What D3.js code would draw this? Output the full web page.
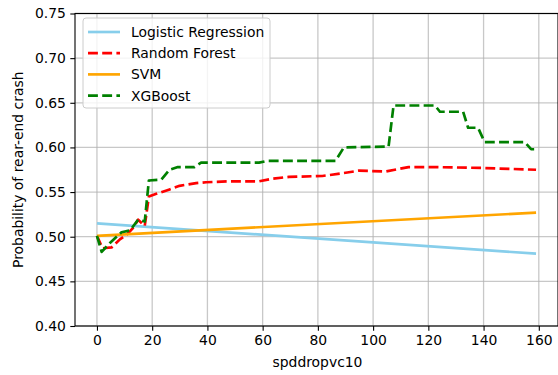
<!DOCTYPE html>
<html>
<head>
<meta charset="utf-8">
<script src="https://cdn.jsdelivr.net/npm/d3@7"></script>
<style>
  html, body { margin: 0; padding: 0; background: #fff; }
  svg { display: block; font-family: "DejaVu Sans", sans-serif; }
</style>
</head>
<body>
<svg id="chart" width="558" height="375"></svg>
<script>
// Predicted probability of a rear-end crash versus spddropvc10, per model
const lrX = [0, 159];
const lrY = [0.515, 0.481];

const svmX = [0, 159];
const svmY = [0.501, 0.527];

const rfX = [0, 2, 5.3, 8.3, 10.7, 13.1, 14.9, 17.3, 18.8, 21.5, 26.3, 29.9, 35.9, 39.5, 47.9, 58.7, 63.5, 69.5, 81.6, 88.8, 94.8, 104.4, 112.8, 122.4, 139.2, 159];
const rfY = [0.501, 0.487, 0.488, 0.497, 0.502, 0.510, 0.519, 0.512, 0.545, 0.548, 0.553, 0.557, 0.560, 0.561, 0.562, 0.562, 0.565, 0.567, 0.568, 0.571, 0.574, 0.573, 0.578, 0.578, 0.577, 0.575];

const xgbX = [0, 1.7, 4.7, 8.9, 12, 14.9, 17.3, 18.8, 23.3, 26.3, 29.3, 35.3, 37.7, 58.7, 61.7, 86.4, 89.4, 105.6, 107.4, 122.4, 124.2, 132.6, 134.4, 138, 140.4, 154.9, 157.2, 159];
const xgbY = [0.501, 0.483, 0.493, 0.505, 0.507, 0.519, 0.517, 0.563, 0.564, 0.575, 0.578, 0.578, 0.583, 0.583, 0.585, 0.585, 0.600, 0.601, 0.647, 0.647, 0.640, 0.640, 0.622, 0.622, 0.606, 0.606, 0.598, 0.598];

const xTicks = [0, 20, 40, 60, 80, 100, 120, 140, 160];
const yTicks = [0.40, 0.45, 0.50, 0.55, 0.60, 0.65, 0.70, 0.75];

const series = [
  { name: "Logistic Regression", xs: lrX, ys: lrY, color: "#87CEEB", dash: null },
  { name: "Random Forest", xs: rfX, ys: rfY, color: "#FF0000", dash: "9.9,4.3" },
  { name: "SVM", xs: svmX, ys: svmY, color: "#FFA500", dash: null },
  { name: "XGBoost", xs: xgbX, ys: xgbY, color: "#008000", dash: "9.9,4.3" }
];

const FONT = "13.9px";
const plotLeft = 75, plotRight = 558, plotTop = 13.5, plotBottom = 326;
const svg = d3.select("#chart");

const x = d3.scaleLinear().domain([-7.95, 166.95]).range([plotLeft, plotRight]);
const y = d3.scaleLinear().domain([0.40, 0.75]).range([plotBottom, plotTop]);

// grid
const grid = svg.append("g");
grid.selectAll("line.gx").data(xTicks).join("line")
  .attr("x1", d => x(d)).attr("x2", d => x(d))
  .attr("y1", plotTop).attr("y2", plotBottom)
  .attr("stroke", "#b0b0b0").attr("stroke-opacity", 0.7).attr("stroke-width", 1.3);
grid.selectAll("line.gy").data(yTicks).join("line")
  .attr("y1", d => y(d)).attr("y2", d => y(d))
  .attr("x1", plotLeft).attr("x2", plotRight)
  .attr("stroke", "#b0b0b0").attr("stroke-opacity", 0.7).attr("stroke-width", 1.3);

// lines
const line = d3.line().x(d => x(d[0])).y(d => y(d[1]));
const plot = svg.append("g");
series.forEach(s => {
  plot.append("path")
    .datum(s.xs.map((v, i) => [v, s.ys[i]]))
    .attr("d", line)
    .attr("fill", "none")
    .attr("stroke", s.color)
    .attr("stroke-width", 2.67)
    .attr("stroke-dasharray", s.dash)
    .attr("stroke-linejoin", "round");
});

// axes
const xAxis = d3.axisBottom(x).tickValues(xTicks).tickSize(4.7).tickPadding(4.5).tickFormat(d3.format("d"));
const yAxis = d3.axisLeft(y).tickValues(yTicks).tickSize(4.7).tickPadding(4.5).tickFormat(d3.format(".2f"));

const gx = svg.append("g").attr("transform", `translate(0,${plotBottom})`).call(xAxis);
const gy = svg.append("g").attr("transform", `translate(${plotLeft},0)`).call(yAxis);
[gx, gy].forEach(g => {
  g.select(".domain").remove();
  g.selectAll("text").attr("font-size", FONT).attr("fill", "#000").attr("font-family", "DejaVu Sans, sans-serif");
  g.selectAll("line").attr("stroke", "#000").attr("stroke-width", 1.1);
});

// frame
svg.append("rect")
  .attr("x", plotLeft).attr("y", plotTop)
  .attr("width", plotRight - plotLeft).attr("height", plotBottom - plotTop)
  .attr("fill", "none").attr("stroke", "#000").attr("stroke-width", 1.1);

// axis titles
svg.append("text")
  .attr("x", (plotLeft + 560) / 2).attr("y", 367)
  .attr("text-anchor", "middle").attr("font-size", FONT)
  .text("spddropvc10");
svg.append("text")
  .attr("transform", `translate(23,${(plotTop + plotBottom) / 2}) rotate(-90)`)
  .attr("text-anchor", "middle").attr("font-size", FONT)
  .text("Probability of rear-end crash");

// legend
const lg = svg.append("g").attr("transform", "translate(83,18)");
lg.append("rect")
  .attr("width", 187).attr("height", 90).attr("rx", 3)
  .attr("fill", "#fff").attr("fill-opacity", 0.8)
  .attr("stroke", "#cccccc").attr("stroke-width", 1);
series.forEach((s, i) => {
  const cy = 14 + i * 21.2;
  lg.append("line")
    .attr("x1", 5).attr("x2", 37).attr("y1", cy).attr("y2", cy)
    .attr("stroke", s.color).attr("stroke-width", 2.67)
    .attr("stroke-dasharray", s.dash);
  lg.append("text")
    .attr("x", 48).attr("y", cy + 5)
    .attr("font-size", FONT)
    .text(s.name);
});
</script>
</body>
</html>
